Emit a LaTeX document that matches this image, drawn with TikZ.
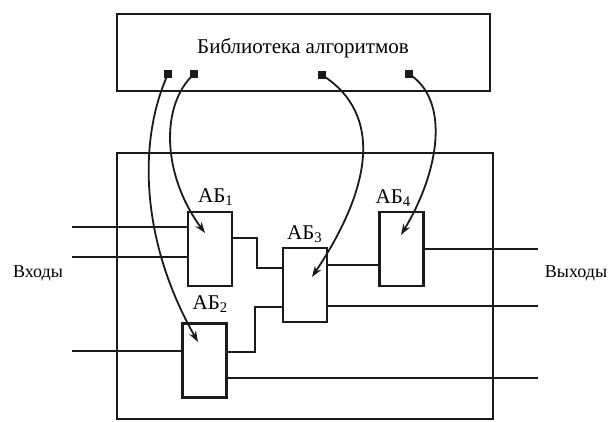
\documentclass[tikz,border=0pt]{standalone}
\usepackage{fontspec}
\setmainfont{Liberation Serif}
\usepackage{tikz}
\usetikzlibrary{arrows.meta,positioning,calc}
\definecolor{ink}{HTML}{1A1A1A}

\begin{document}
\begin{tikzpicture}[x=0.5pt,y=-0.5pt,>={Stealth[length=5.5pt,width=3.8pt]},
 box/.style={draw=ink,line width=1.1pt,inner sep=0pt},
 blk/.style={draw=ink,line width=1.1pt,minimum width=22pt,minimum height=37pt,inner sep=0pt},
 pin/.style={fill=ink,minimum size=3.6pt,inner sep=0pt},
 lbl/.style={font=\small,inner sep=1pt},
 tag/.style={font=\fontsize{10.5}{12}\selectfont,inner sep=1pt},
 wire/.style={draw=ink,line width=1pt},
 ar/.style={->,line width=0.9pt,color=ink}]
 \useasboundingbox (0,0) rectangle (611,422);
 % library and the system frame
 \node[box,minimum width=186.5pt,minimum height=38.5pt] (lib) at (303.5,52.5) {};
 \node[inner sep=0pt,font=\fontsize{10.5}{12}\selectfont] (libtext) at (303,48) {Библиотека алгоритмов};
 \node[box,minimum width=188pt,minimum height=133pt] (sys) at (305,286) {};
 % algorithm blocks
 \node[blk] (ab1) at (210,249) {};
 \node[blk] (ab2) at (204.5,360.5) {};
 \node[blk] (ab3) at (305,285) {};
 \node[blk] (ab4) at (401.5,249) {};
 \node[tag,above=1.5pt of ab1,xshift=3pt] (l1) {АБ\textsubscript{1}};
 \node[tag,above=3.5pt of ab2,xshift=3pt] (l2) {АБ\textsubscript{2}};
 \node[tag,above=1pt of ab3] (l3) {АБ\textsubscript{3}};
 \node[tag,above=1pt of ab4,xshift=-4pt] (l4) {АБ\textsubscript{4}};
 \node[lbl] (inl) at (38,273) {Входы};
 \node[lbl] (outl) at (576,273) {Выходы};
 % pins in the library
 \node[pin] (p1) at (168,74) {};
 \node[pin] (p2) at (194,74) {};
 \node[pin] (p3) at (322,75) {};
 \node[pin] (p4) at (409,74) {};
 \coordinate (in1) at (72,227);
 \coordinate (in2) at (72,257);
 \coordinate (in3) at (72,351);
 \coordinate (out1) at (538,249);
 \coordinate (out2) at (538,306);
 \coordinate (out3) at (538,378);
 \coordinate (t1) at (205,233);
 \coordinate (t2) at (198,342);
 \coordinate (t3) at (312,277);
 \coordinate (t4) at (401,235);
 % wires
 \draw[wire] (in1) -- (in1 -| ab1.west);
 \draw[wire] (in2) -- (in2 -| ab1.west);
 \draw[wire] (in3) -- (in3 -| ab2.west);
 \draw[wire] (ab1.east |- 0,238) -| (257,268) -- (ab3.west |- 0,268);
 \draw[wire] (ab2.east |- 0,352) -| (255,307) -- (ab3.west |- 0,307);
 \draw[wire] (ab2.east |- out3) -- (out3);
 \draw[wire] (ab3.east |- 0,265) -- (ab4.west |- 0,265);
 \draw[wire] (ab3.east |- out2) -- (out2);
 \draw[wire] (ab4.east) -- (out1);
 % loading the algorithms
 \draw[ar] (p1.center) .. controls (138,140) and (140,240) .. (t2);
 \draw[ar] (p2.center) .. controls (160,105) and (162,175) .. (t1);
 \draw[ar] (p3.center) .. controls (385,115) and (370,190) .. (t3);
 \draw[ar] (p4.center) .. controls (450,100) and (440,170) .. (t4);
\end{tikzpicture}
\end{document}
